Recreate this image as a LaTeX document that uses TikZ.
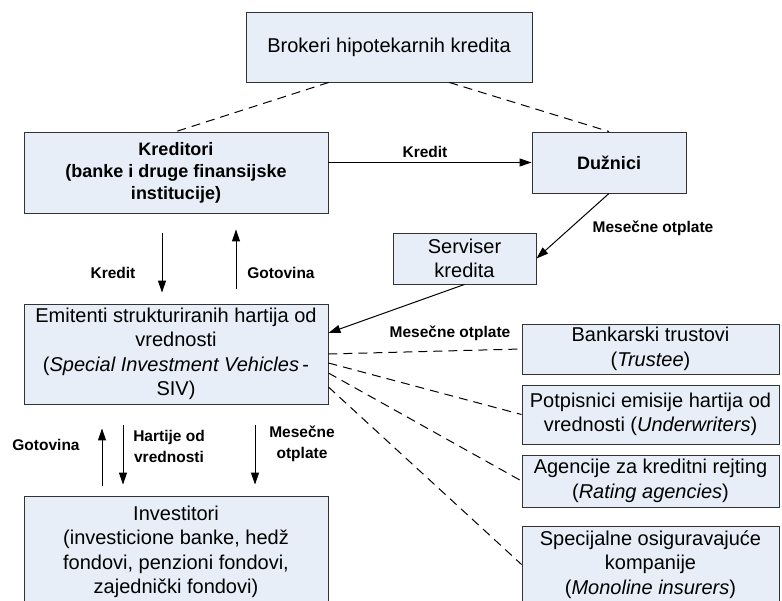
\documentclass[tikz,border=0pt]{standalone}
\usepackage{fontspec}
\setmainfont{Liberation Sans}
\usetikzlibrary{arrows.meta,calc}

\definecolor{boxfill}{RGB}{232,238,247}

\tikzset{
    box/.style={draw=black!80, fill=boxfill, line width=0.9pt, align=center, inner sep=0pt,
        font=\fontsize{20}{24.5}\selectfont},
    boldbox/.style={box, font=\fontsize{18}{22}\selectfont\bfseries},
    flow/.style={line width=1pt, -{Triangle[length=12pt,width=8pt]}},
    link/.style={line width=1pt, dash pattern=on 9pt off 6pt},
    lbl/.style={font=\fontsize{15.5}{21}\selectfont\bfseries, align=center, inner sep=0pt}
}

\begin{document}
\begin{tikzpicture}[x=1pt, y=-1pt]
    \clip (0,0) rectangle (782,601);

    \node[box, minimum width=286pt, minimum height=70pt] (brok) at (389,47) {Brokeri hipotekarnih kredita};
    \node[boldbox, minimum width=304pt, minimum height=81pt] (kred) at (176,172.5)
        {Kreditori\\(banke i druge finansijske\\institucije)};
    \node[boldbox, minimum width=154pt, minimum height=61pt] (duz) at (609,162.5) {Dužnici};
    \node[box, minimum width=143pt, minimum height=51pt] (serv) at (464.5,258.5) {Serviser\\kredita};
    \node[box, minimum width=304pt, minimum height=100pt] (emit) at (176,354)
        {Emitenti strukturiranih hartija od\\vrednosti\\(\textit{Special Investment Vehicles}\,-\\SIV)};
    \node[box, minimum width=304pt, minimum height=112pt] (inv) at (176,552)
        {Investitori\\(investicione banke, hedž\\fondovi, penzioni fondovi,\\zajednički fondovi)};

    \node[box, minimum width=257pt, minimum height=50pt] (bank) at (650.5,349) {Bankarski trustovi\\(\textit{Trustee})};
    \node[box, minimum width=257pt, minimum height=59pt] (potp) at (650.5,414.5)
        {Potpisnici emisije hartija od\\vrednosti (\textit{Underwriters})};
    \node[box, minimum width=257pt, minimum height=52pt] (agen) at (650.5,481)
        {Agencije za kreditni rejting\\(\textit{Rating agencies})};
    \node[box, minimum width=257pt, minimum height=77pt] (spec) at (650.5,564.5)
        {Specijalne osiguravajuće\\kompanije\\(\textit{Monoline insurers})};

    \draw[link] ($(brok.south west)!0.29!(brok.south east)$) -- (kred.north);
    \draw[link] ($(brok.south west)!0.71!(brok.south east)$) -- (duz.north);

    \draw[flow] (kred.east |- duz.west) -- (duz.west);
    \draw[flow] (duz.south) -- (serv.east);
    \draw[flow] (serv.south) -- ([yshift=21pt]emit.east);

    \draw[flow] ([xshift=-14pt,yshift=-20pt]kred.south) -- ([xshift=-14pt,yshift=11pt]emit.north);
    \draw[flow] ([xshift=60pt,yshift=15pt]emit.north) -- ([xshift=60pt,yshift=-16pt]kred.south);

    \draw[flow] ([xshift=-74pt,yshift=10pt]inv.north) -- ([xshift=-74pt,yshift=-24pt]emit.south);
    \draw[flow] ([xshift=-53pt,yshift=-21pt]emit.south) -- ([xshift=-53pt,yshift=11pt]inv.north);
    \draw[flow] ([xshift=79pt,yshift=-21pt]emit.south) -- ([xshift=79pt,yshift=11pt]inv.north);

    \draw[link] (emit.east) -- (bank.west);
    \draw[link] ([yshift=-9pt]emit.east) -- (potp.west);
    \draw[link] ([yshift=-19pt]emit.east) -- (agen.west);
    \draw[link] ([yshift=-33pt]emit.east) -- (spec.west);

    \node[lbl] (lkred) at (425,152) {Kredit};
    \node[lbl] (lotpl) at (653,228) {Mesečne otplate};
    \node[lbl] (lkred2) at (113,273) {Kredit};
    \node[lbl] (lgot) at (281,273) {Gotovina};
    \node[lbl] (lotpl2) at (450,333) {Mesečne otplate};
    \node[lbl] (lgot2) at (46,445) {Gotovina};
    \node[lbl] (lhart) at (169,446) {Hartije od\\vrednosti};
    \node[lbl] (lotpl3) at (302,444) {Mesečne\\otplate};
\end{tikzpicture}
\end{document}
